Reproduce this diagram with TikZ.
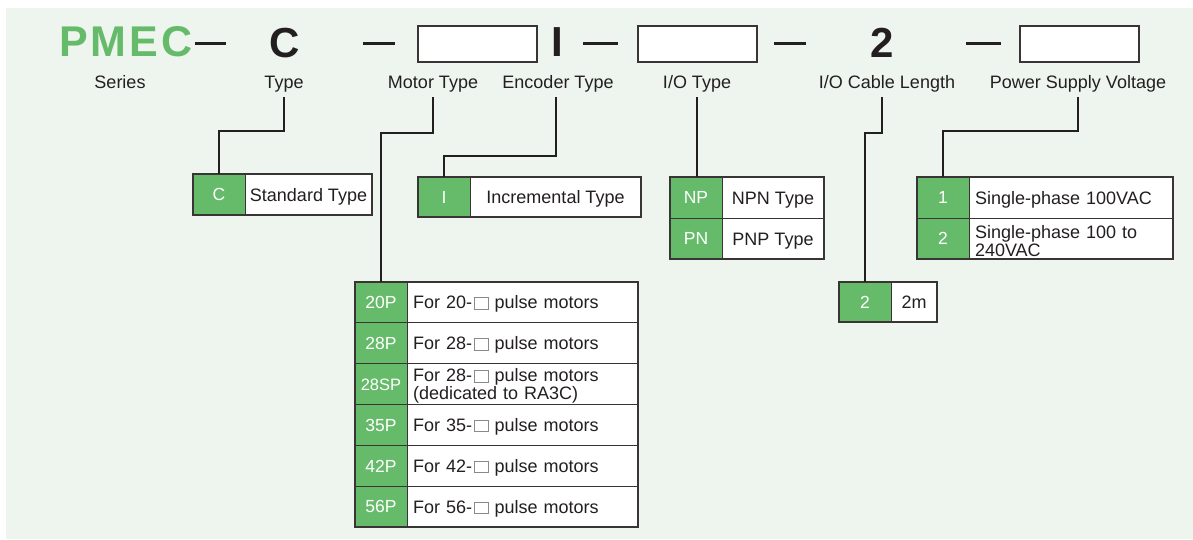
\documentclass[tikz,border=0pt]{standalone}
\usepackage{fontspec}
\setmainfont{Liberation Sans}
\usetikzlibrary{positioning}
\definecolor{codegreen}{HTML}{66BB6A}
\definecolor{panel}{HTML}{EEF5EE}
\definecolor{ink}{HTML}{231F20}
\definecolor{edge}{HTML}{3A3535}
\definecolor{boxgrey}{HTML}{8A8A8A}
\newcommand{\pulsebox}{\kern1.5pt\textcolor{boxgrey}{\fboxsep0pt\fboxrule1pt\fbox{\rule{0pt}{10.5pt}\rule{13pt}{0pt}}}}
\newcommand{\twolines}[2]{\parbox[c]{#1}{\raggedright #2}}

\begin{document}
\begin{tikzpicture}[x=1pt,y=-1pt,
  lbl/.style={font=\fontsize{18}{18}\selectfont,text=ink,inner sep=0pt,anchor=base,text height=13pt,text depth=9pt},
  big/.style={font=\fontsize{42}{42}\selectfont\bfseries,text=ink,inner sep=0pt,anchor=base},
  joiner/.style={inner sep=0pt,text=ink},
  blank/.style={draw=edge,fill=white,line width=1.5pt,minimum width=119pt,minimum height=36pt,inner sep=0pt,anchor=north west},
  codecell/.style={draw=edge,line width=0.8pt,outer sep=0pt,fill=codegreen,text=white,minimum width=52pt,inner sep=0pt,text height=12.7pt,text depth=0pt,font=\fontsize{17.5}{17.5}\selectfont},
  desccell/.style={draw=edge,line width=0.8pt,outer sep=0pt,fill=white,text=ink,inner sep=0pt,text height=13pt,text depth=0pt,font=\fontsize{18}{18}\selectfont,align=center},
  leftcell/.style={desccell,align=left,inner xsep=6pt,text width=#1},
  frame/.style={draw=edge,line width=2pt},
  lead/.style={draw=ink,line width=1.5pt}]
% panel
\fill[white] (0,0) rectangle (1193,539);
\fill[panel] (6,8) rectangle (1193,539);
% model code line
\node[anchor=base west,inner sep=0pt,text=codegreen,font=\fontsize{43}{43}\selectfont\bfseries\addfontfeature{LetterSpace=7}] (series) at (59,56) {PMEC};
\node[joiner] (j1) at (210.5,43) {\rule{31pt}{3pt}};
\node[big] (type) at (285,57) {C};
\node[joiner] (j2) at (379,43) {\rule{32pt}{3pt}};
\node[blank] (motor) at (417,25) {};
\node[big] (enc) at (557,56) {I};
\node[joiner] (j3) at (600.5,43) {\rule{35pt}{3pt}};
\node[blank] (io) at (637,25) {};
\node[joiner] (j4) at (790,43) {\rule{32pt}{3pt}};
\node[big] (cable) at (882,57) {2};
\node[joiner] (j5) at (983.5,43) {\rule{35pt}{3pt}};
\node[blank] (power) at (1019,25) {};
% captions
\node[lbl] (lSeries) at (120,88) {Series};
\node[lbl] (lType) at (284,88) {Type};
\node[lbl] (lMotor) at (433,88) {Motor Type};
\node[lbl] (lEnc) at (558,88) {Encoder Type};
\node[lbl] (lIO) at (697,88) {I/O Type};
\node[lbl] (lCable) at (887,88) {I/O Cable Length};
\node[lbl] (lPower) at (1078,88) {Power Supply Voltage};
% type
\node[codecell,minimum height=41pt,anchor=north west] (cC) at (193,174) {C};
\node[desccell,minimum width=127pt,minimum height=41pt,right=0pt of cC] (dC) {Standard Type};
\draw[frame] (cC.north west) rectangle (dC.south east);
% encoder
\node[codecell,minimum height=40pt,anchor=north west] (cI) at (418,177) {I};
\node[desccell,minimum width=171pt,minimum height=40pt,right=0pt of cI] (dI) {Incremental Type};
\draw[frame] (cI.north west) rectangle (dI.south east);
% i/o
\node[codecell,minimum height=41pt,anchor=north west] (cNP) at (670,177) {NP};
\node[desccell,minimum width=102pt,minimum height=41pt,right=0pt of cNP] (dNP) {NPN Type};
\node[codecell,minimum height=41pt,below=0pt of cNP] (cPN) {PN};
\node[desccell,minimum width=102pt,minimum height=41pt,right=0pt of cPN] (dPN) {PNP Type};
\draw[frame] (cNP.north west) rectangle (dPN.south east);
% power
\node[codecell,minimum height=41pt,anchor=north west] (c1) at (917,177) {1};
\node[leftcell=192pt,minimum height=41pt,right=0pt of c1] (d1) {Single-phase 100VAC};
\node[codecell,minimum height=41pt,below=0pt of c1] (c2) {2};
\node[leftcell=192pt,minimum height=41pt,right=0pt of c2] (d2) {\twolines{192pt}{Single-phase 100 to\\240VAC}};
\draw[frame] (c1.north west) rectangle (d2.south east);
% cable length
\node[codecell,minimum height=40pt,anchor=north west] (c2m) at (839,282) {2};
\node[desccell,minimum width=46pt,minimum height=40pt,right=0pt of c2m] (d2m) {2m};
\draw[frame] (c2m.north west) rectangle (d2m.south east);
% motor type
\foreach \code/\desc [count=\i from 0] in {20P/For 20-\pulsebox{} pulse motors,28P/For 28-\pulsebox{} pulse motors,{\fontsize{16.5}{16.5}\selectfont 28SP}/{\twolines{219pt}{For 28-\pulsebox{} pulse motors\\(dedicated to RA3C)}},35P/For 35-\pulsebox{} pulse motors,42P/For 42-\pulsebox{} pulse motors,56P/For 56-\pulsebox{} pulse motors}
{
  \node[codecell,minimum height=40.83pt,anchor=north west] (m\i) at (355,{282+40.83*\i}) {\code};
  \node[leftcell=219pt,minimum height=40.83pt,right=0pt of m\i] (n\i) {\desc};
}
\draw[frame] (m0.north west) rectangle (n5.south east);
% leads
\coordinate (bType) at (219,131);
\coordinate (bMotor) at (381,133);
\coordinate (bEnc) at (444,156);
\coordinate (bCable) at (865,133);
\coordinate (bPower) at (943,131);
\draw[lead] (lType.south) |- (bType) -- (cC.north);
\draw[lead] (lMotor.south) |- (bMotor) -- (m0.north);
\draw[lead] ([xshift=-2pt]lEnc.south) |- (bEnc) -- (cI.north);
\draw[lead] (lIO.south) -- (lIO.south |- cNP.north);
\draw[lead] ([xshift=-5pt]lCable.south) |- (bCable) -- (c2m.north);
\draw[lead] (lPower.south) |- (bPower) -- (c1.north);
\end{tikzpicture}
\end{document}
